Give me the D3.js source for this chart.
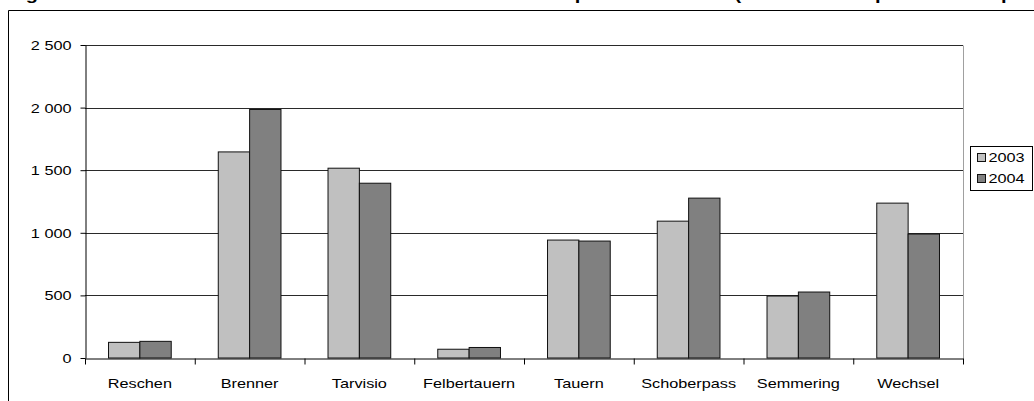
<!DOCTYPE html>
<html>
<head>
<meta charset="utf-8">
<script src="https://cdn.jsdelivr.net/npm/d3@7"></script>
<style>
  html, body { margin: 0; padding: 0; background: #fff; overflow: hidden; }
  svg { display: block; font-family: "Liberation Sans", Arial, Helvetica, sans-serif; }
</style>
</head>
<body>
<svg id="chart" width="1034" height="401"></svg>
<script>
// Heavy goods vehicle crossings per Alpine pass (thousands)
const categories = ["Reschen", "Brenner", "Tarvisio", "Felbertauern", "Tauern", "Schoberpass", "Semmering", "Wechsel"];
const seriesNames = ["2003", "2004"];
const values2003 = [125, 1646, 1516, 70, 942, 1093, 495, 1237];
const values2004 = [133, 1985, 1396, 84, 934, 1277, 527, 990];
const yTicks = [0, 500, 1000, 1500, 2000, 2500];
const titleText = "Figure 5 : Trafic annuel des véhicules lourds sur les axes alpins autrichiens (en milliers de poids lourds par an)";

const seriesValues = { "2003": values2003, "2004": values2004 };
const colors = { "2003": "#c0c0c0", "2004": "#808080" };
const SX = 1.25; // horizontal stretch of the text

const svg = d3.select("#chart");
const plotLeft = 85, plotRight = 963, plotTop = 45, plotBottom = 358;

const fmt = d3.formatLocale({ decimal: ",", thousands: " ", grouping: [3], currency: ["", ""] }).format(",d");

// title (runs off the top edge of the page)
svg.append("text")
  .attr("x", 8).attr("y", -0.5)
  .attr("font-size", 17).attr("font-weight", "bold")
  .attr("textLength", 1060).attr("lengthAdjust", "spacingAndGlyphs")
  .text(titleText);

// outer frame
svg.append("line").attr("x1", 8.5).attr("x2", 1040).attr("y1", 10.5).attr("y2", 10.5)
  .attr("stroke", "#000").attr("stroke-width", 1);
svg.append("line").attr("x1", 8.5).attr("x2", 8.5).attr("y1", 10.5).attr("y2", 410)
  .attr("stroke", "#000").attr("stroke-width", 1);

const x0 = d3.scaleBand().domain(categories).range([plotLeft, plotRight]).padding(0);
const x1 = d3.scaleBand().domain(seriesNames).range([0, x0.bandwidth()]).paddingInner(0).paddingOuter(0.75);
const y = d3.scaleLinear().domain([0, 2500]).range([plotBottom, plotTop]);
const xEdges = d3.scaleLinear().domain([0, categories.length]).range([plotLeft, plotRight]);

// gridlines
svg.append("g").selectAll("line").data(yTicks.filter(d => d > 0)).join("line")
  .attr("x1", plotLeft).attr("x2", plotRight)
  .attr("y1", d => Math.round(y(d)) + 0.5).attr("y2", d => Math.round(y(d)) + 0.5)
  .attr("stroke", "#2a2a2a").attr("stroke-width", 1);

// right border of the plot area
svg.append("line").attr("x1", plotRight + 0.5).attr("x2", plotRight + 0.5)
  .attr("y1", Math.round(y(2500)) + 0.5).attr("y2", Math.round(y(0)) + 0.5)
  .attr("stroke", "#a0a0a0").attr("stroke-width", 1);

// bars
const groups = svg.append("g").selectAll("g").data(categories).join("g")
  .attr("transform", d => `translate(${x0(d)},0)`);
groups.selectAll("rect")
  .data((c, i) => seriesNames.map(s => ({ s, v: seriesValues[s][i] })))
  .join("rect")
  .attr("x", d => x1(d.s))
  .attr("width", x1.bandwidth())
  .attr("y", d => y(d.v))
  .attr("height", d => y(0) - y(d.v))
  .attr("fill", d => colors[d.s])
  .attr("stroke", "#111").attr("stroke-width", 1);

// y axis
const yAxis = svg.append("g").attr("transform", `translate(${plotLeft + 0.5},0)`)
  .call(d3.axisLeft(y).tickValues(yTicks).tickFormat(fmt).tickSize(5).tickSizeOuter(0));
yAxis.select(".domain").attr("stroke", "#000");
yAxis.selectAll(".tick line").attr("stroke", "#000");
yAxis.selectAll(".tick text")
  .attr("x", -14 / SX).attr("dy", "0.35em")
  .attr("transform", `scale(${SX},1)`)
  .attr("font-size", 13).attr("font-family", "Liberation Sans, Arial, sans-serif").attr("fill", "#000");

// x axis: ticks at category boundaries
const xAxis = svg.append("g").attr("transform", `translate(0,${Math.round(y(0)) + 0.5})`)
  .call(d3.axisBottom(xEdges).ticks(categories.length).tickFormat("").tickSize(6).tickSizeOuter(0));
xAxis.select(".domain").attr("stroke", "#000");
xAxis.selectAll(".tick line").attr("stroke", "#000");

// category labels
const xLabels = svg.append("g").attr("transform", `translate(0,${Math.round(y(0))})`)
  .call(d3.axisBottom(x0).tickSize(0));
xLabels.select(".domain").remove();
xLabels.selectAll(".tick text")
  .attr("y", 0).attr("dy", 30)
  .attr("font-size", 13).attr("font-family", "Liberation Sans, Arial, sans-serif").attr("fill", "#000");
// stretch each label about its own tick position
xLabels.selectAll(".tick").each(function () {
  const t = d3.select(this);
  const m = /translate\(([-\d.]+)/.exec(t.attr("transform"));
  const cx = m ? +m[1] : 0;
  t.attr("transform", null);
  t.select("text").attr("transform", `translate(${cx},0) scale(${SX},1)`);
});

// legend
const lg = svg.append("g").attr("transform", "translate(970.5,146.5)");
lg.append("rect").attr("width", 62).attr("height", 44).attr("fill", "#fff").attr("stroke", "#000");
seriesNames.forEach((s, i) => {
  const row = lg.append("g").attr("transform", `translate(0,${11 + i * 21})`);
  row.append("rect").attr("x", 7).attr("y", -4).attr("width", 8).attr("height", 8)
    .attr("fill", colors[s]).attr("stroke", "#111");
  row.append("text").attr("transform", `translate(18,0) scale(${SX},1)`)
    .attr("dy", "0.35em").attr("font-size", 13).text(s);
});
</script>
</body>
</html>
